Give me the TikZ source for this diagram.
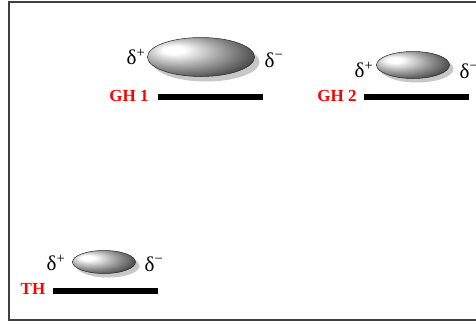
\documentclass[tikz,border=0pt]{standalone}
\usepackage{fontspec}
\setmainfont{Liberation Serif}
\pgfdeclareradialshading{blobshade}{\pgfpoint{-14bp}{10bp}}{%
  color(0bp)=(white); color(5bp)=(white); color(20bp)=(black!40);
  color(32bp)=(black!70); color(44bp)=(black!92); color(60bp)=(black)}
\begin{document}
\begin{tikzpicture}[x=1pt,y=-1pt,
  frame/.style={draw=black!75,line width=1.5pt},
  bar/.style={line width=6pt},
  blob/.style={shading=blobshade,draw=black!85,line width=0.5pt},
  shadowblob/.style={fill=black!22},
  lbl/.style={text=red,font=\fontsize{17}{17}\selectfont\bfseries,inner sep=0pt},
  pol/.style={font=\fontsize{21}{21}\selectfont,inner sep=0pt}]
\useasboundingbox (0,0) rectangle (476,324);
\draw[frame] (480,2) -- (9,2) -- (9,320) -- (480,320);
% GH1
\fill[shadowblob] (206,62) ellipse [x radius=53.5,y radius=19.5];
\shadedraw[blob] (201,57) ellipse [x radius=53.5,y radius=19.5];
\node[pol] (p1) at (136,57) {δ\textsuperscript{+}};
\node[pol] (m1) at (274,60) {δ\textsuperscript{−}};
\coordinate (b1a) at (158,97);
\coordinate (b1b) at (263,97);
\draw[bar] (b1a) -- (b1b);
\node[lbl] (l1) at (129,96) {GH 1};
% GH2
\fill[shadowblob] (417,69) ellipse [x radius=36.5,y radius=13.5];
\shadedraw[blob] (413,65) ellipse [x radius=36.5,y radius=13.5];
\node[pol] (p2) at (364,70) {δ\textsuperscript{+}};
\node[pol] (m2) at (469,71) {δ\textsuperscript{−}};
\coordinate (b2a) at (364,97);
\coordinate (b2b) at (469,97);
\draw[bar] (b2a) -- (b2b);
\node[lbl] (l2) at (337,96) {GH 2};
% TH
\fill[shadowblob] (108,266) ellipse [x radius=31.5,y radius=11.5];
\shadedraw[blob] (104,262) ellipse [x radius=31.5,y radius=11.5];
\node[pol] (p3) at (56,263) {δ\textsuperscript{+}};
\node[pol] (m3) at (154,264) {δ\textsuperscript{−}};
\coordinate (b3a) at (53,291);
\coordinate (b3b) at (158,291);
\draw[bar] (b3a) -- (b3b);
\node[lbl] (l3) at (33,289) {TH};
\end{tikzpicture}
\end{document}
